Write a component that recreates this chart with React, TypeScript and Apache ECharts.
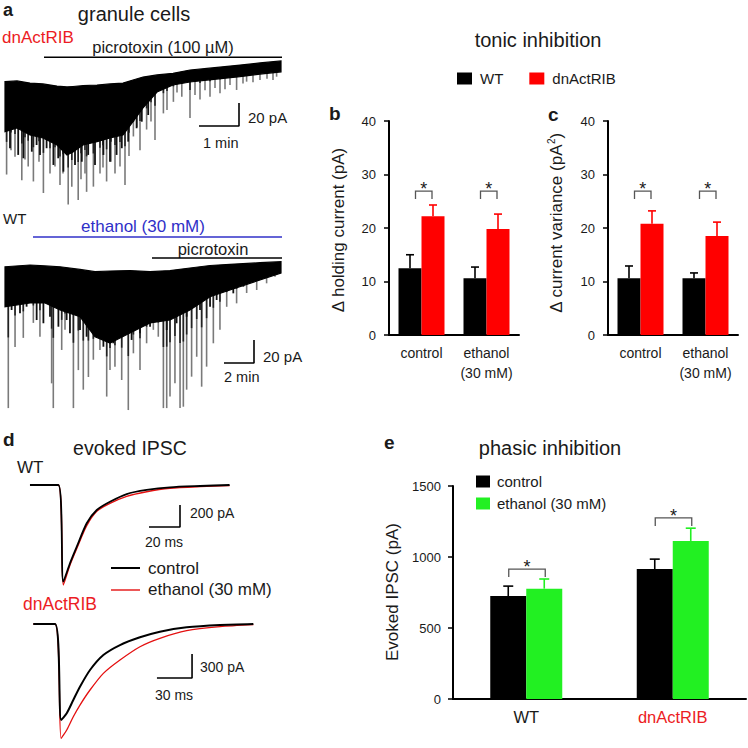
import React, { useEffect, useRef } from 'react';
import * as echarts from 'echarts';

const FONT = 'Liberation Sans';
const INK = '#1a1a1a';
const RED = '#ff0000';
const RED_TEXT = '#ec1c24';
const GREEN = '#22f022';
const BLUE = '#3030c8';
const SPIKE = '#7a7a7a';

// ---------- panel a, top trace: dnActRIB (time in min, current in pA) ----------
const a1Time = [0, 0.3, 0.625, 0.95, 1.3, 1.55, 1.7, 1.95, 2.3, 2.625, 2.95, 3.2, 3.45, 3.8, 4.2, 4.625, 5.05, 5.875, 6.375, 6.9];
const a1Top = [-20.5, -19.9, -21.7, -22.5, -24.3, -25.1, -24.7, -24, -23.4, -22.5, -21.7, -19.1, -16.5, -14.7, -13.3, -10.4, -9, -6.1, -4.3, -2.6];
const a1Bottom = [-63.9, -60.7, -66.7, -69.3, -75.4, -84, -81.4, -75.4, -72.5, -69.3, -66.7, -55.2, -43.3, -29.5, -23.4, -20.8, -19.1, -16.2, -13.9, -12];
const a1SpikeTime = [0.04, 0.15, 0.25, 0.42, 0.5, 0.58, 0.71, 0.85, 0.96, 1.125, 1.25, 1.375, 1.45, 1.58, 1.67, 1.83, 1.9, 2.0, 2.04, 2.21, 2.375, 2.45, 2.54, 2.65, 2.75, 2.875, 3.0, 3.1, 3.21, 3.3, 3.375, 3.54, 3.65, 3.75, 3.96, 4.05, 4.21, 4.3, 4.42, 4.625, 4.75, 4.875, 5.0, 5.125, 5.25, 5.375, 5.5, 5.625, 5.79, 5.95, 6.04, 6.2, 6.375, 6.55, 6.7, 6.79];
const a1SpikeDepth = [-101, -80, -85.5, -106, -88, -94, -107, -90, -117, -100, -94, -110, -100, -127, -111.5, -123, -105, -100, -116, -111.5, -100, -95, -107, -90, -100, -94, -110, -85, -68, -60, -80, -62, -55, -71, -48, -45, -38, -30, -33.5, -52, -32, -36, -28, -33.5, -26, -30.6, -27, -23.4, -27.7, -22, -20.5, -21, -19, -18, -19, -16.2];
const a1ShortTime = [0.125, 0.33, 0.46, 0.67, 0.79, 0.875, 1.04, 1.21, 1.33, 1.46, 1.75, 1.92, 2.08, 2.25, 2.46, 2.625, 2.79, 2.92, 3.08, 3.29, 3.42, 3.58];
const a1ShortDepth = [-78.2, -84, -86.9, -81.2, -75.4, -84, -78.2, -92.7, -86.9, -98.5, -92.7, -89.9, -84, -92.7, -84, -89.9, -84, -78.2, -72.5, -60.9, -55.2, -49.4];

// ---------- panel a, bottom trace: WT ----------
const a2Time = [0, 1.67, 2.67, 3.67, 5, 6, 7, 8.33, 9.67, 11, 12.33, 13.67, 15, 17, 18.4];
const a2Top = [-10.2, -8.7, -9.5, -10.2, -12.5, -14.5, -13.9, -13.5, -14.5, -13.5, -11.3, -9.1, -8.1, -6.7, -5.8];
const a2Bottom = [-45, -41.7, -41.7, -47.8, -53.6, -71, -76.5, -67.8, -59, -56.5, -47.8, -36.2, -30.4, -21.7, -15.6];
const a2SpikeTime = [0.22, 0.67, 1.22, 1.89, 2.33, 3.11, 3.22, 3.78, 4.0, 4.56, 4.89, 5.22, 5.56, 5.89, 6.33, 6.78, 7.0, 7.33, 7.78, 8.22, 8.56, 9.0, 9.44, 9.89, 10.22, 10.56, 10.78, 11.0, 11.33, 11.67, 11.89, 12.11, 12.44, 12.78, 13.11, 13.44, 13.89, 14.33, 14.78, 15.44, 16.11, 16.78, 17.44, 18.0];
const a2SpikeDepth = [-133, -80, -72, -59, -71, -111.5, -133, -82.5, -65, -133, -100, -117, -106, -91, -82.5, -123, -100, -97, -108.6, -134.7, -85.4, -100, -76.7, -65, -71, -133, -133, -123, -111.5, -133, -131.8, -117, -105.7, -88.4, -114.4, -97, -76.7, -65, -45, -42, -33, -30.4, -24.6, -18.8];
const a2ShortTime = [0.44, 1.0, 1.44, 2.11, 2.56, 3.0, 3.56, 4.11, 4.33, 5.0, 5.44, 6.11, 6.56, 7.22, 7.67, 8.44, 9.0, 9.67, 10.11, 10.78, 11.44, 12.11, 13.0, 13.67, 14.11, 15.22, 15.89, 16.56, 17.22, 17.78];
const a2ShortDepth = [-47.8, -50.7, -44.9, -56.5, -59.3, -53.6, -62.3, -56.5, -68, -65.2, -71, -71, -79.7, -76.7, -71, -73.8, -68, -62.3, -56.5, -65.2, -59.3, -53.6, -47.8, -44.9, -39.1, -33.3, -27.5, -23.2, -18.9, -15.9];

// ---------- panel b: holding current ----------
const tonicCats = ['control', 'ethanol\n(30 mM)'];
const bWT = [12.5, 10.6];
const bWTErr = [2.5, 2.1];
const bDn = [22.2, 19.8];
const bDnErr = [2.1, 2.8];
const bSig = [26.9, 26.9];

// ---------- panel c: current variance ----------
const cWT = [10.6, 10.6];
const cWTErr = [2.3, 1.0];
const cDn = [20.8, 18.5];
const cDnErr = [2.4, 2.6];
const cSig = [26.9, 26.9];

// ---------- panel d: evoked IPSC traces (time in ms, current in pA) ----------
const dWTTime = [3.2, 21.5, 24.7, 29, 33.4, 39.8, 46.3, 54.8, 65.6, 78.5, 93.5, 113, 132];
const dWTCtrl = [0, 0, -879, -712, -561, -348, -227, -152, -82, -45, -21, -9, 0];
const dWTEth = [0, 0, -909, -727, -576, -370, -239, -167, -103, -61, -30, -15, -6];
const dDnTime = [2.8, 21.4, 26.6, 31.4, 37, 42.7, 51.3, 62.7, 76.9, 94, 111, 133.9, 162.4, 190.9];
const dDnCtrl = [0, 0, -1200, -1116, -950, -784, -575, -388, -263, -166, -96, -41, -12, 0];
const dDnEth = [0, 0, -1429, -1325, -1159, -1013, -825, -617, -450, -284, -179, -84, -34, -9];

// ---------- panel e: evoked IPSC amplitude ----------
const phasicCats = ['WT', 'dnActRIB'];
const eCtrl = [725, 915];
const eCtrlErr = [70, 70];
const eEth = [777, 1113];
const eEthErr = [68, 90];
const eSig = [915, 1275];

// scale bars: [x of vertical bar, y of horizontal bar, x length, y length]
const scaleA1 = [5.85, -58.9, 1, 20];
const scaleA2 = [16.6, -93.8, 2, 20];
const scaleD1 = [100, -382, 20, 200];
const scaleD2 = [138.5, -675, 30, 300];

function lerp(xs: number[], ys: number[], x: number) {
  if (x <= xs[0]) return ys[0];
  for (let i = 1; i < xs.length; i++) {
    if (x <= xs[i]) {
      const f = (x - xs[i - 1]) / (xs[i] - xs[i - 1]);
      return ys[i - 1] + f * (ys[i] - ys[i - 1]);
    }
  }
  return ys[ys.length - 1];
}

function bandSeries(idx: number, times: number[], top: number[], bottom: number[]) {
  return {
    type: 'custom',
    xAxisIndex: idx,
    yAxisIndex: idx,
    silent: true,
    z: 3,
    data: times.map((t, i) => [t, top[i], bottom[i]]),
    renderItem: (params: any, api: any) => {
      if (params.dataIndex !== 0) return null;
      const pts: number[][] = [];
      for (let i = 0; i < times.length; i++) pts.push(api.coord([times[i], top[i]]));
      for (let i = times.length - 1; i >= 0; i--) pts.push(api.coord([times[i], bottom[i]]));
      return { type: 'polygon', shape: { points: pts }, style: { fill: '#000', stroke: '#000', lineWidth: 1.2 } };
    },
  };
}

function spikeSeries(idx: number, sTimes: number[], sDepth: number[], times: number[], bottom: number[], short: boolean) {
  return {
    type: 'custom',
    xAxisIndex: idx,
    yAxisIndex: idx,
    silent: true,
    z: short ? 2.5 : 2,
    data: sTimes.map((t, i) => [t, sDepth[i], lerp(times, bottom, t) + 6]),
    renderItem: (params: any, api: any) => {
      const t = api.value(0);
      const d = api.value(1);
      const s = api.value(2);
      if (d >= s) return null;
      const p1 = api.coord([t, s]);
      const p2 = api.coord([t, d]);
      if (short) {
        return { type: 'line', shape: { x1: p1[0], y1: p1[1], x2: p2[0], y2: p2[1] }, style: { stroke: '#111', lineWidth: 1.8 } };
      }
      const pm = api.coord([t, s + (d - s) * 0.35]);
      return {
        type: 'group',
        children: [
          { type: 'line', shape: { x1: p1[0], y1: p1[1], x2: p2[0], y2: p2[1] }, style: { stroke: SPIKE, lineWidth: 1.6 } },
          { type: 'line', shape: { x1: p1[0], y1: p1[1], x2: pm[0], y2: pm[1] }, style: { stroke: '#222', lineWidth: 1.6 } },
        ],
      };
    },
  };
}

function scaleSeries(idx: number, s: number[]) {
  const [x, y, dx, dy] = s;
  return {
    type: 'line',
    xAxisIndex: idx,
    yAxisIndex: idx,
    silent: true,
    symbol: 'none',
    z: 4,
    data: [[x - dx, y], [x, y], [x, y + dy]],
    lineStyle: { color: '#000', width: 1.6 },
  };
}

function traceSeries(idx: number, times: number[], vals: number[], color: string, width: number, z: number) {
  return {
    type: 'line',
    xAxisIndex: idx,
    yAxisIndex: idx,
    silent: true,
    symbol: 'none',
    smooth: 0.25,
    z,
    data: times.map((t, i) => [t, vals[i]]),
    lineStyle: { color, width },
  };
}

function errSeries(idx: number, vals: number[], errs: number[], offset: number, color: string, cap: number) {
  return {
    type: 'custom',
    xAxisIndex: idx,
    yAxisIndex: idx,
    silent: true,
    z: 5,
    data: vals.map((v, i) => [i, v, v + errs[i]]),
    renderItem: (params: any, api: any) => {
      const b = api.coord([api.value(0), api.value(1)]);
      const t = api.coord([api.value(0), api.value(2)]);
      const cx = b[0] + offset;
      return {
        type: 'group',
        children: [
          { type: 'line', shape: { x1: cx, y1: b[1], x2: cx, y2: t[1] }, style: { stroke: color, lineWidth: 1.6 } },
          { type: 'line', shape: { x1: cx - cap / 2, y1: t[1], x2: cx + cap / 2, y2: t[1] }, style: { stroke: color, lineWidth: 1.6 } },
        ],
      };
    },
  };
}

function sigSeries(idx: number, ys: number[], dx0: number, dx1: number) {
  return {
    type: 'custom',
    xAxisIndex: idx,
    yAxisIndex: idx,
    silent: true,
    z: 5,
    data: ys.map((y, i) => [i, y]),
    renderItem: (params: any, api: any) => {
      const p = api.coord([api.value(0), api.value(1)]);
      const x0 = p[0] + dx0;
      const x1 = p[0] + dx1;
      const y = p[1];
      return {
        type: 'group',
        children: [
          { type: 'polyline', shape: { points: [[x0, y + 8], [x0, y], [x1, y], [x1, y + 8]] }, style: { stroke: '#555', lineWidth: 1.3, fill: 'none' } },
          { type: 'text', style: { text: '*', x: (x0 + x1) / 2, y: y - 2, fill: INK, fontSize: 18, fontFamily: FONT, textAlign: 'center', align: 'center', textVerticalAlign: 'middle', verticalAlign: 'middle' } },
        ],
      };
    },
  };
}

function txt(text: string, x: number, y: number, size: number, opts: any = {}) {
  const align = opts.align || 'left';
  const el: any = {
    type: 'text',
    silent: true,
    style: {
      text,
      x: opts.rotate ? 0 : x,
      y: opts.rotate ? 0 : y,
      fill: opts.color || INK,
      fontSize: size,
      fontFamily: FONT,
      fontWeight: opts.bold ? 'bold' : 'normal',
      textAlign: align,
      align,
      textVerticalAlign: 'middle',
      verticalAlign: 'middle',
      rich: opts.rich,
    },
  };
  if (opts.rotate) {
    el.x = x;
    el.y = y;
    el.rotation = Math.PI / 2;
  }
  return el;
}

function hline(x1: number, x2: number, y: number, color: string, w: number) {
  return { type: 'line', silent: true, shape: { x1, y1: y, x2, y2: y }, style: { stroke: color, lineWidth: w } };
}

function hiddenAxis(gridIndex: number, min: number, max: number) {
  return { gridIndex, type: 'value', min, max, show: false };
}

function catAxis(gridIndex: number, data: string[], size: number, rich = false) {
  return {
    gridIndex,
    type: 'category',
    data,
    axisLine: { lineStyle: { color: '#000', width: 2 } },
    axisTick: { show: false },
    axisLabel: {
      fontSize: size,
      fontFamily: FONT,
      color: INK,
      margin: 8,
      lineHeight: 20,
      interval: 0,
      formatter: rich ? (v: string) => (v === 'dnActRIB' ? '{r|' + v + '}' : v) : undefined,
      rich: rich ? { r: { color: RED_TEXT, fontSize: size, fontFamily: FONT } } : undefined,
    },
  };
}

function valAxis(gridIndex: number, max: number, interval: number, labelSize: number, labelMargin: number) {
  return {
    gridIndex,
    type: 'value',
    min: 0,
    max,
    interval,
    axisLine: { show: true, lineStyle: { color: '#000', width: 2 } },
    axisTick: { show: true, length: 5, lineStyle: { color: '#000', width: 1.5 } },
    axisLabel: { fontSize: labelSize, fontFamily: FONT, color: INK, margin: labelMargin, formatter: (v: number) => String(v) },
    splitLine: { show: false },
  };
}

function buildOption() {
  const grid = (left: number, top: number, width: number, height: number) => ({ left, top, width, height, containLabel: false, outerBoundsMode: 'none' });
  return {
    animation: false,
    backgroundColor: '#ffffff',
    textStyle: { fontFamily: FONT },
    grid: [
      grid(5, 58, 280, 150),
      grid(5, 255, 285, 160),
      grid(389, 121, 130, 214),
      grid(608, 121, 130, 214),
      grid(25, 478.4, 217, 111.1),
      grid(30, 616, 234, 128),
      grid(453, 486, 293, 213),
    ],
    xAxis: [
      hiddenAxis(0, 0, 7),
      hiddenAxis(1, 0, 19),
      catAxis(2, tonicCats, 14),
      catAxis(3, tonicCats, 14),
      hiddenAxis(4, 0, 140),
      hiddenAxis(5, 0, 200),
      catAxis(6, phasicCats, 16.5, true),
    ],
    yAxis: [
      hiddenAxis(0, -130, 0),
      hiddenAxis(1, -139, 0),
      valAxis(2, 40, 10, 13, 13),
      valAxis(3, 40, 10, 13, 13),
      hiddenAxis(4, -950, 60),
      hiddenAxis(5, -1500, 100),
      valAxis(6, 1500, 500, 13, 12),
    ],
    legend: [
      {
        data: ['WT', 'dnActRIB'],
        left: 457,
        top: 71,
        padding: 0,
        icon: 'rect',
        itemWidth: 15,
        itemHeight: 12,
        itemGap: 26,
        selectedMode: false,
        textStyle: { fontSize: 15, fontFamily: FONT, color: INK, padding: [0, 0, 0, 3] },
      },
      {
        data: ['control', 'ethanol (30 mM)'],
        orient: 'vertical',
        left: 476,
        top: 474,
        padding: 0,
        icon: 'rect',
        itemWidth: 14,
        itemHeight: 12,
        itemGap: 7,
        selectedMode: false,
        textStyle: { fontSize: 15, fontFamily: FONT, color: INK, padding: [0, 0, 0, 2] },
      },
    ],
    series: [
      // panel a traces
      spikeSeries(0, a1SpikeTime, a1SpikeDepth, a1Time, a1Bottom, false),
      spikeSeries(0, a1ShortTime, a1ShortDepth, a1Time, a1Bottom, true),
      bandSeries(0, a1Time, a1Top, a1Bottom),
      scaleSeries(0, scaleA1),
      spikeSeries(1, a2SpikeTime, a2SpikeDepth, a2Time, a2Bottom, false),
      spikeSeries(1, a2ShortTime, a2ShortDepth, a2Time, a2Bottom, true),
      bandSeries(1, a2Time, a2Top, a2Bottom),
      scaleSeries(1, scaleA2),
      // panel b
      { name: 'WT', type: 'bar', xAxisIndex: 2, yAxisIndex: 2, data: bWT, barWidth: 23, barGap: '0%', itemStyle: { color: '#000' }, silent: true },
      { name: 'dnActRIB', type: 'bar', xAxisIndex: 2, yAxisIndex: 2, data: bDn, barWidth: 23, barGap: '0%', itemStyle: { color: RED }, silent: true },
      errSeries(2, bWT, bWTErr, -11.5, '#000', 8),
      errSeries(2, bDn, bDnErr, 11.5, RED, 8),
      sigSeries(2, bSig, -6, 10.5),
      // panel c
      { name: 'WT', type: 'bar', xAxisIndex: 3, yAxisIndex: 3, data: cWT, barWidth: 23, barGap: '0%', itemStyle: { color: '#000' }, silent: true },
      { name: 'dnActRIB', type: 'bar', xAxisIndex: 3, yAxisIndex: 3, data: cDn, barWidth: 23, barGap: '0%', itemStyle: { color: RED }, silent: true },
      errSeries(3, cWT, cWTErr, -11.5, '#000', 8),
      errSeries(3, cDn, cDnErr, 11.5, RED, 8),
      sigSeries(3, cSig, -6, 10.5),
      // panel d traces
      traceSeries(4, dWTTime, dWTEth, '#e41010', 1.4, 2),
      traceSeries(4, dWTTime, dWTCtrl, '#000', 1.8, 3),
      scaleSeries(4, scaleD1),
      traceSeries(5, dDnTime, dDnEth, '#e41010', 1.3, 2),
      traceSeries(5, dDnTime, dDnCtrl, '#000', 2, 3),
      scaleSeries(5, scaleD2),
      // panel e
      { name: 'control', type: 'bar', xAxisIndex: 6, yAxisIndex: 6, data: eCtrl, barWidth: 36, barGap: '0%', itemStyle: { color: '#000' }, silent: true },
      { name: 'ethanol (30 mM)', type: 'bar', xAxisIndex: 6, yAxisIndex: 6, data: eEth, barWidth: 36, barGap: '0%', itemStyle: { color: GREEN }, silent: true },
      errSeries(6, eCtrl, eCtrlErr, -18, '#000', 10),
      errSeries(6, eEth, eEthErr, 18, GREEN, 10),
      sigSeries(6, eSig, -17.5, 19),
    ],
    graphic: [
      // panel a
      txt('a', 3, 10, 18, { bold: true }),
      txt('granule cells', 134, 14, 20, { align: 'center' }),
      txt('dnActRIB', 2, 37, 17, { color: RED_TEXT }),
      txt('picrotoxin (100 µM)', 163, 47, 16.5, { align: 'center' }),
      hline(44, 282, 57.3, '#000', 1.6),
      txt('20 pA', 248, 117, 15),
      txt('1 min', 203, 143, 14.5),
      txt('WT', 3, 218, 15),
      txt('ethanol (30 mM)', 143, 226, 17, { align: 'center', color: BLUE }),
      hline(33, 282, 237, BLUE, 1.6),
      txt('picrotoxin', 213, 249, 16.5, { align: 'center' }),
      hline(152, 282, 258, '#000', 1.6),
      txt('20 pA', 263, 356, 15),
      txt('2 min', 224, 377, 14.5),
      // panels b, c
      txt('tonic inhibition', 538, 40, 20, { align: 'center' }),
      txt('b', 329, 113, 19, { bold: true }),
      txt('c', 548, 114, 19, { bold: true }),
      txt('Δ holding current (pA)', 338, 230, 17, { align: 'center', rotate: true }),
      txt('Δ current variance (pA{sup|2})', 556, 223, 17, {
        align: 'center',
        rotate: true,
        rich: { sup: { fontSize: 10, fontFamily: FONT, fill: INK, verticalAlign: 'top', lineHeight: 20 } },
      }),
      // panel d
      txt('d', 3, 439, 19, { bold: true }),
      txt('evoked IPSC', 130, 448, 19.5, { align: 'center' }),
      txt('WT', 17, 467, 17),
      txt('200 pA', 190, 513, 14),
      txt('20 ms', 145, 542, 14),
      hline(111, 140, 568, '#000', 2),
      txt('control', 148, 568, 17),
      hline(111, 140, 590, '#e41010', 1.4),
      txt('ethanol (30 mM)', 148, 589, 17),
      txt('dnActRIB', 23, 604, 17.5, { color: RED_TEXT }),
      txt('300 pA', 200, 667, 14),
      txt('30 ms', 155, 695, 14),
      // panel e
      txt('e', 384, 442, 19, { bold: true }),
      txt('phasic inhibition', 550, 448, 20, { align: 'center' }),
      txt('Evoked IPSC (pA)', 392, 592, 17, { align: 'center', rotate: true }),
    ],
  };
}

export default function App() {
  const ref = useRef<HTMLDivElement>(null);
  useEffect(() => {
    document.body.style.margin = '0';
    const chart = echarts.init(ref.current as HTMLDivElement, null, { renderer: 'svg', width: 748, height: 748 });
    chart.setOption(buildOption() as any);
    return () => chart.dispose();
  }, []);
  return <div ref={ref} style={{ position: 'fixed', left: 0, top: 0, width: 748, height: 748, background: '#fff' }} />;
}
